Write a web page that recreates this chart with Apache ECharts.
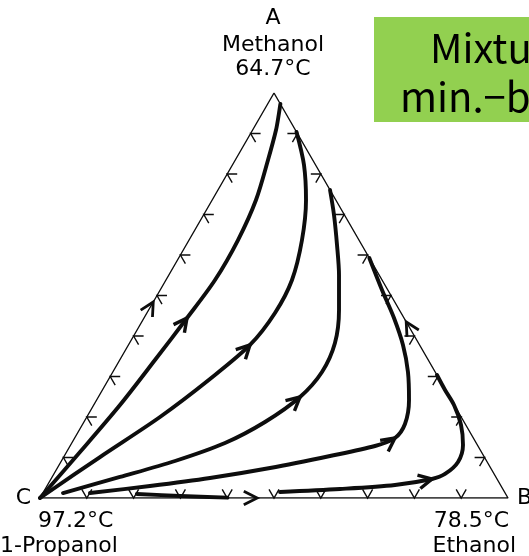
<!DOCTYPE html>
<html>
<head>
<meta charset="utf-8">
<script src="https://cdn.jsdelivr.net/npm/echarts@6/dist/echarts.min.js"></script>
<style>
  html, body { margin: 0; padding: 0; background: #ffffff; overflow: hidden; }
  #chart { width: 529px; height: 556px; }
</style>
</head>
<body>
<div id="chart"></div>
<script>
// Residue curves for methanol (A) / ethanol (B) / 1-propanol (C).
// Each point is [x_ethanol, x_methanol]; 1-propanol makes up the balance.
// A null splits a curve where it runs hidden along the C-B edge.
const curve1 = [[0, 0], [0.0287, 0.1136], [0.0561, 0.2296], [0.0753, 0.3407], [0.0919, 0.4444],
  [0.1048, 0.5383], [0.1046, 0.6370], [0.0936, 0.7358], [0.0699, 0.8346], [0.0500, 0.9086],
  [0.0354, 0.9506], [0.0272, 0.9728]];
const curve2 = [[0, 0], [0.0776, 0.1012], [0.1564, 0.2000], [0.2163, 0.2938], [0.2598, 0.3778],
  [0.2737, 0.4568], [0.2693, 0.5383], [0.2413, 0.6370], [0.2005, 0.7358], [0.1530, 0.8222],
  [0.0963, 0.9037]];
const curve3 = [[0.0430, 0.0123], [0.1450, 0.0519], [0.2428, 0.0914], [0.3274, 0.1358], [0.3869, 0.1877],
  [0.4309, 0.2494], [0.4470, 0.3111], [0.4389, 0.3827], [0.4068, 0.4642], [0.3636, 0.5506],
  [0.3223, 0.6247], [0.2788, 0.6988], [0.2395, 0.7605]];
const curve4 = [[0.1006, 0.0123], [0.2202, 0.0296], [0.3385, 0.0494], [0.4545, 0.0741], [0.5678, 0.1037],
  [0.6516, 0.1284], [0.6844, 0.1481], [0.6885, 0.1827], [0.6675, 0.2420], [0.6307, 0.3111],
  [0.5867, 0.3778], [0.5342, 0.4444], [0.4740, 0.5136], [0.4074, 0.5926]];
const curve5 = [[0.202, 0.010], [0.297, 0.005], [0.400, 0.001], null,
  [0.5054, 0.0148], [0.6299, 0.0222], [0.7425, 0.0321], [0.8141, 0.0469], [0.8358, 0.0593],
  [0.8488, 0.0889], [0.8384, 0.1309], [0.8095, 0.1802], [0.7698, 0.2296], [0.7321, 0.2667],
  [0.6964, 0.3037]];

// Pure components at the corners, [x_ethanol, x_methanol]
const vertexA = [0, 1];   // methanol
const vertexB = [1, 0];   // ethanol
const vertexC = [0, 0];   // 1-propanol

// Where the direction arrows sit on each curve (index into the curve array)
const curveArrows = [[curve1, 4], [curve2, 4], [curve3, 5], [curve4, 6], [curve5, 7]];
// Arrows on the binary edges: [tip, heading toward]
const edgeArrows = [[[0, 0.484], vertexA], [[0.565, 0.435], vertexA], [[0.464, 0], vertexB]];
// Composition ticks every 10 mol% along each edge
const tickFractions = [0.1, 0.2, 0.3, 0.4, 0.5, 0.6, 0.7, 0.8, 0.9];

// Corner labels
const labelA = ['A', 'Methanol', '64.7°C'];
const labelB = ['B', '78.5°C', 'Ethanol'];
const labelC = ['C', '97.2°C', '1-Propanol'];
const boxLines = ['Mixture with no', 'min.−boiling azeotrope'];

const SQ3 = Math.sqrt(3) / 2;
// ternary composition -> plane position of the equilateral triangle
function toXY(p) { return [p[0] + p[1] / 2, p[1] * SQ3]; }

function segments(curve) {
  const out = [];
  let cur = [];
  curve.forEach(p => {
    if (p === null) { if (cur.length) out.push(cur); cur = []; }
    else cur.push(toXY(p));
  });
  if (cur.length) out.push(cur);
  return out;
}

const INK = '#0d0d0d';
const series = [];

// triangle outline
series.push({
  type: 'line', data: [vertexC, vertexB, vertexA, vertexC].map(toXY),
  symbol: 'none', lineStyle: { color: INK, width: 1.4 }, silent: true, z: 2
});

// residue curves
[curve1, curve2, curve3, curve4, curve5].forEach(c => {
  segments(c).forEach(seg => {
    series.push({
      type: 'line', data: seg, smooth: 0.3, symbol: 'none',
      lineStyle: { color: INK, width: 3.9, cap: 'round', join: 'round' }, silent: true, z: 3
    });
  });
});

// arrowheads: [tipX, tipY, fromX, fromY, toX, toY, width]
const arrowData = [];
curveArrows.forEach(([c, i]) => {
  const t = toXY(c[i]);
  const prev = c[i - 1] ? toXY(c[i - 1]) : t;
  const next = c[i + 1] ? toXY(c[i + 1]) : t;
  arrowData.push([t[0], t[1], prev[0], prev[1], next[0], next[1], 3.4]);
});
edgeArrows.forEach(([tip, toward]) => {
  const t = toXY(tip), w = toXY(toward);
  arrowData.push([t[0], t[1], t[0], t[1], w[0], w[1], 2.8]);
});

function rot(v, ang) {
  const c = Math.cos(ang), s = Math.sin(ang);
  return [v[0] * c - v[1] * s, v[0] * s + v[1] * c];
}
function unit(a, b) {
  const dx = b[0] - a[0], dy = b[1] - a[1];
  const l = Math.hypot(dx, dy) || 1;
  return [dx / l, dy / l];
}

series.push({
  type: 'custom', coordinateSystem: 'cartesian2d', data: arrowData, clip: false, silent: true, z: 4,
  encode: { x: 0, y: 1 },
  renderItem: function (params, api) {
    const tip = api.coord([api.value(0), api.value(1)]);
    const from = api.coord([api.value(2), api.value(3)]);
    const to = api.coord([api.value(4), api.value(5)]);
    const u = unit(from, to);
    const L = 15, th = 27 * Math.PI / 180;
    const a1 = rot(u, th), a2 = rot(u, -th);
    return {
      type: 'polyline',
      shape: { points: [[tip[0] - L * a1[0], tip[1] - L * a1[1]], tip, [tip[0] - L * a2[0], tip[1] - L * a2[1]]] },
      style: { stroke: INK, lineWidth: api.value(6), fill: null, lineJoin: 'miter' }
    };
  }
});

// edge ticks: [tipX, tipY, alongX, alongY, oppositeX, oppositeY]
const tickData = [];
tickFractions.forEach(f => {
  [[[f, 0], vertexB, vertexA], [[0, f], vertexA, vertexB], [[1 - f, f], vertexA, vertexC]].forEach(([p, along, opp]) => {
    const t = toXY(p), a = toXY(along), o = toXY(opp);
    tickData.push([t[0], t[1], a[0], a[1], o[0], o[1]]);
  });
});

series.push({
  type: 'custom', coordinateSystem: 'cartesian2d', data: tickData, clip: false, silent: true, z: 2,
  encode: { x: 0, y: 1 },
  renderItem: function (params, api) {
    const tip = api.coord([api.value(0), api.value(1)]);
    const along = api.coord([api.value(2), api.value(3)]);
    const opp = api.coord([api.value(4), api.value(5)]);
    const d = unit(tip, along);
    let n = [-d[1], d[0]];
    if (n[0] * (opp[0] - tip[0]) + n[1] * (opp[1] - tip[1]) < 0) n = [-n[0], -n[1]];
    const L = 10, th = 30 * Math.PI / 180;
    const a1 = rot(n, th), a2 = rot(n, -th);
    return {
      type: 'polyline',
      shape: { points: [[tip[0] + L * a1[0], tip[1] + L * a1[1]], tip, [tip[0] + L * a2[0], tip[1] + L * a2[1]]] },
      style: { stroke: INK, lineWidth: 1.4, fill: null }
    };
  }
});

const LABEL_FONT = '22px "DejaVu Sans"';
function label(text, x, y, align) {
  return { type: 'text', x: x, y: y, silent: true,
    style: { text: text, font: LABEL_FONT, fill: '#000000', align: align, verticalAlign: 'middle' } };
}

const chart = echarts.init(document.getElementById('chart'), null, { renderer: 'canvas' });
chart.setOption({
  animation: false,
  backgroundColor: '#ffffff',
  grid: { left: 40, top: 93, width: 468, height: 405 },
  xAxis: { type: 'value', min: 0, max: 1, show: false },
  yAxis: { type: 'value', min: 0, max: SQ3, show: false },
  series: series,
  graphic: [
    label(labelA[0], 273, 18, 'center'),
    label(labelA[1], 273, 45, 'center'),
    label(labelA[2], 273, 69, 'center'),
    label(labelC[0], 31, 498, 'right'),
    label(labelC[1], 38, 521, 'left'),
    label(labelC[2], 0, 546, 'left'),
    label(labelB[0], 517, 498, 'left'),
    label(labelB[1], 509, 521, 'right'),
    label(labelB[2], 516, 546, 'right'),
    { type: 'rect', x: 374, y: 17, silent: true, shape: { width: 200, height: 105 }, style: { fill: '#92d050' } },
    { type: 'text', x: 430, y: 48, silent: true,
      style: { text: boxLines[0], font: '40px "Noto Sans CJK KR"', fill: '#000000', align: 'left', verticalAlign: 'middle' } },
    { type: 'text', x: 400, y: 97, silent: true,
      style: { text: boxLines[1], font: '40px "Noto Sans CJK KR"', fill: '#000000', align: 'left', verticalAlign: 'middle' } }
  ]
});
</script>
</body>
</html>
